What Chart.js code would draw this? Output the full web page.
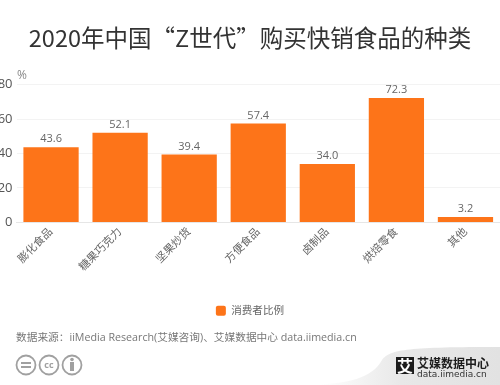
<!DOCTYPE html>
<html>
<head>
<meta charset="utf-8">
<title>2020年中国“Z世代”购买快销食品的种类</title>
<script src="https://cdn.jsdelivr.net/npm/chart.js@4"></script>
<style>
    html, body { margin: 0; padding: 0; background: #fff; overflow: hidden; }
    #wrap { position: relative; width: 500px; height: 385px; }
    canvas { position: absolute; left: 0; top: 0; }
</style>
</head>
<body>
<div id="wrap"><canvas id="chart" width="500" height="385"></canvas></div>
<script>
const categories = ['膨化食品', '糖果巧克力', '坚果炒货', '方便食品', '卤制品', '烘焙零食', '其他'];
const shareValues = [43.6, 52.1, 39.4, 57.4, 34.0, 72.3, 3.2];
const yTicks = [0, 20, 40, 60, 80];
const seriesName = '消费者比例';
const chartTitle = '2020年中国“Z世代”购买快销食品的种类';
const sourceText = '数据来源：iiMedia Research(艾媒咨询)、艾媒数据中心 data.iimedia.cn';

const fontFamily = '"Open Sans", "Noto Sans CJK SC", sans-serif';
const orange = '#fd7419';

// value labels above the bars
const barLabels = {
    id: 'barLabels',
    afterDatasetsDraw(chart) {
        const ctx = chart.ctx;
        const meta = chart.getDatasetMeta(0);
        ctx.save();
        ctx.font = '11px ' + fontFamily;
        ctx.fillStyle = '#666';
        ctx.textAlign = 'center';
        ctx.textBaseline = 'alphabetic';
        meta.data.forEach((bar, i) => {
            ctx.fillText(shareValues[i].toFixed(1), bar.x, bar.y - 5);
        });
        ctx.restore();
    }
};

// unit, source line, licence icons and the logo corner
const pageExtras = {
    id: 'pageExtras',
    beforeDraw(chart) {
        const ctx = chart.ctx;
        ctx.save();
        const grad = ctx.createLinearGradient(320, 0, 500, 0);
        grad.addColorStop(0, '#ffffff');
        grad.addColorStop(0.45, '#e8e8e8');
        grad.addColorStop(1, '#e2e2e2');
        ctx.fillStyle = grad;
        ctx.beginPath();
        ctx.moveTo(305, 385);
        ctx.bezierCurveTo(350, 384, 372, 378, 382, 360);
        ctx.bezierCurveTo(390, 349, 410, 347, 500, 347);
        ctx.lineTo(500, 385);
        ctx.closePath();
        ctx.fill();
        ctx.restore();
    },
    afterDraw(chart) {
        const ctx = chart.ctx;
        ctx.save();
        ctx.textBaseline = 'alphabetic';
        ctx.fillStyle = '#888';
        ctx.font = '12px ' + fontFamily;
        ctx.fillText('%', 17, 79);
        ctx.fillStyle = '#777';
        ctx.font = '10.7px ' + fontFamily;
        ctx.fillText(sourceText, 16, 341);

        ctx.strokeStyle = '#a0a0a0';
        ctx.lineWidth = 1.8;
        [26, 49, 72].forEach(x => {
            ctx.beginPath();
            ctx.arc(x, 365, 9.5, 0, Math.PI * 2);
            ctx.stroke();
        });
        ctx.fillStyle = '#a0a0a0';
        ctx.fillRect(21, 362, 10, 2);
        ctx.fillRect(21, 366, 10, 2);
        ctx.font = 'bold 9px ' + fontFamily;
        ctx.textAlign = 'center';
        ctx.fillText('cc', 49, 368);
        ctx.beginPath();
        ctx.arc(72, 359.5, 1.8, 0, Math.PI * 2);
        ctx.fill();
        ctx.fillRect(70, 362, 4, 9);

        ctx.fillStyle = '#1c1c1c';
        ctx.fillRect(396, 357, 18, 17);
        ctx.fillStyle = '#fff';
        ctx.font = 'bold 16px "Noto Sans CJK SC"';
        ctx.fillText('艾', 405, 371.5);
        ctx.fillStyle = '#1c1c1c';
        ctx.textAlign = 'left';
        ctx.font = 'bold 12px "Noto Sans CJK SC"';
        ctx.fillText('艾媒数据中心', 417, 367.5);
        ctx.fillStyle = '#333';
        ctx.font = '9px "DejaVu Sans"';
        ctx.fillText('data.iimedia.cn', 417, 377);
        ctx.restore();
    }
};

new Chart(document.getElementById('chart'), {
    type: 'bar',
    data: {
        labels: categories,
        datasets: [{
            label: seriesName,
            data: shareValues,
            backgroundColor: orange,
            categoryPercentage: 0.8,
            barPercentage: 1
        }]
    },
    options: {
        responsive: false,
        animation: false,
        layout: { padding: { top: 24, bottom: 59, left: 0, right: 0 } },
        plugins: {
            title: {
                display: true,
                text: chartTitle,
                color: '#333',
                font: { family: '"Noto Sans CJK SC", sans-serif', size: 23.5, weight: 'normal' },
                padding: { top: 0, bottom: 32.5 }
            },
            legend: {
                position: 'bottom',
                labels: {
                    color: '#666',
                    font: { family: fontFamily, size: 10.6 },
                    boxWidth: 10,
                    boxHeight: 10,
                    padding: 4,
                    useBorderRadius: true,
                    borderRadius: 2
                }
            },
            tooltip: { enabled: false }
        },
        scales: {
            x: {
                afterFit(scale) { scale.height = 79; },
                grid: { display: false, drawTicks: false },
                border: { color: '#e6e6e6' },
                ticks: {
                    color: '#666',
                    font: { family: fontFamily, size: 11 },
                    minRotation: 45,
                    maxRotation: 45,
                    autoSkip: false,
                    padding: 3
                }
            },
            y: {
                min: 0,
                max: 80,
                afterFit(scale) { scale.width = 16.5; },
                afterBuildTicks(scale) { scale.ticks = yTicks.map(v => ({ value: v })); },
                grid: { color: '#f3f3f3', drawTicks: false },
                border: { display: false },
                ticks: {
                    color: '#555',
                    font: { family: fontFamily, size: 13 },
                    padding: 4
                }
            }
        }
    },
    plugins: [barLabels, pageExtras]
});
</script>
</body>
</html>
